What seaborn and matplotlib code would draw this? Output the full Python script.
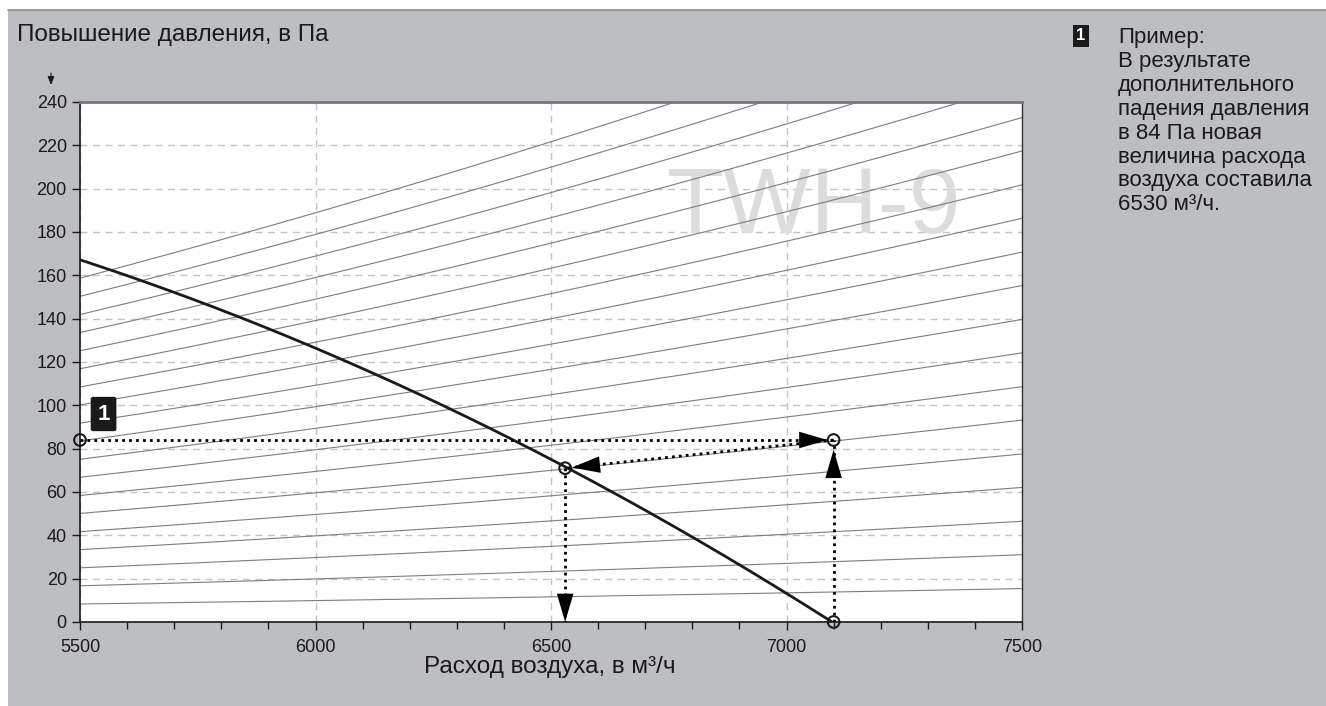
import numpy as np
import seaborn as sns
import matplotlib.pyplot as plt
from matplotlib.patches import Rectangle

# system curves: pressure at 5500 m3/h for each thin line (Pa)
system_start = [8.3, 16.7, 25.0, 33.4, 41.7, 50.1, 58.4, 66.8, 75.1, 83.5,
                91.8, 100.2, 108.5, 116.9, 125.2, 133.6, 141.9, 150.3, 158.7]
q_ref = 5500

# fan curve
fan_q = [5500, 5750, 6000, 6250, 6500, 6750, 7000, 7100]
fan_dp = [167, 148, 127, 102, 75, 45, 13, 0]

# example points
start_pt = (5500, 84)
old_pt = (7100, 84)
old_base = (7100, 0)
new_pt = (6530, 71)

x_ticks = [5500, 6000, 6500, 7000, 7500]
y_ticks = list(range(0, 241, 20))

note_lines = ['Пример:', 'В результате', 'дополнительного', 'падения давления',
              'в 84 Па новая', 'величина расхода', 'воздуха составила', '6530 м³/ч.']

sns.set_style('ticks')
plt.rcParams['font.family'] = ['Liberation Sans', 'DejaVu Sans']

fig = plt.figure(figsize=(13.26, 7.06), dpi=100, facecolor='white')
bg = '#bdbec2'
fig.patches.append(Rectangle((8 / 1326, 0), 1, (706 - 10) / 706, transform=fig.transFigure,
                             facecolor=bg, edgecolor='none', zorder=-10))
fig.lines.append(plt.Line2D([8 / 1326, 1], [(706 - 10) / 706] * 2, transform=fig.transFigure,
                            color='#8a8a8a', lw=1.2))

ax = fig.add_axes([80 / 1326, (706 - 622) / 706, 942 / 1326, 520 / 706])
ax.set_facecolor('white')

# watermark
ax.text(7058, 190.5, 'TWH-9', fontsize=67, color='#dcdcdc', ha='center', va='center', zorder=1)

qq = np.linspace(5500, 7500, 200)
for s in system_start:
    sns.lineplot(x=qq, y=s * (qq / q_ref) ** 2, color='#7d7d7d', lw=0.8, ax=ax, zorder=2)

coef = np.polyfit(fan_q, fan_dp, 2)
qf = np.linspace(fan_q[0], fan_q[-1], 200)
sns.lineplot(x=qf, y=np.polyval(coef, qf), color='#1a1a1a', lw=2, ax=ax, zorder=3)

dot = dict(color='black', lw=2, linestyle=(0, (1, 1.5)), zorder=4)
ax.plot([start_pt[0], old_pt[0]], [start_pt[1], old_pt[1]], **dot)
ax.plot([old_base[0], old_pt[0]], [old_base[1], old_pt[1]], **dot)
ax.plot([old_pt[0], new_pt[0]], [old_pt[1], new_pt[1]], **dot)
ax.plot([new_pt[0], new_pt[0]], [new_pt[1], 0], **dot)

head = dict(arrowstyle='-|>,head_length=1.2,head_width=0.35', color='black', lw=0,
            shrinkA=0, shrinkB=0, mutation_scale=17)
def arrowhead(tip, back):
    ax.annotate('', xy=tip, xytext=back, arrowprops=head, zorder=5)

arrowhead((7087, 84), (7000, 84))
arrowhead((7100, 79.5), (7100, 60))
arrowhead((6544, 71.3), (6620, 73))
arrowhead((6530, 0), (6530, 20))

pts_x = [start_pt[0], old_pt[0], old_base[0], new_pt[0]]
pts_y = [start_pt[1], old_pt[1], old_base[1], new_pt[1]]
ax.scatter(pts_x, pts_y, s=70, facecolors='none', edgecolors='#1a1a1a', lw=1.5, zorder=6, clip_on=False)

ax.text(5550, 96, '1', color='white', fontsize=16, fontweight='bold', ha='center', va='center',
        bbox=dict(boxstyle='round,pad=0.3,rounding_size=0.1', fc='#1a1a1a', ec='none'), zorder=7)

ax.set_xlim(5500, 7500)
ax.set_ylim(0, 240)
ax.set_xticks(x_ticks)
ax.set_xticks(np.arange(5500, 7501, 100), minor=True)
ax.set_yticks(y_ticks)
ax.tick_params(axis='both', labelsize=13, colors='#1a1a1a', length=6, width=1, direction='out')
ax.tick_params(axis='x', which='minor', length=5, width=1, color='#1a1a1a')
ax.tick_params(axis='x', pad=6)
ax.grid(True, which='major', color='#c4c4c4', linestyle=(0, (5, 4)), lw=1)
ax.set_axisbelow(True)
for side in ['left', 'bottom']:
    ax.spines[side].set_color('#1a1a1a')
    ax.spines[side].set_linewidth(1.2)
ax.spines['top'].set_color('#777777')
ax.spines['top'].set_linewidth(2)
ax.spines['right'].set_color('#333333')
ax.spines['right'].set_linewidth(1)
ax.set_xlabel('')
ax.set_ylabel('')

fig.text(17 / 1326, 1 - 35 / 706, 'Повышение давления, в Па', fontsize=17.5, color='#1a1a1a',
         ha='left', va='center')
fig.text(550 / 1326, 1 - 667 / 706, 'Расход воздуха, в м³/ч', fontsize=17.5, color='#1a1a1a',
         ha='center', va='center')
ax.annotate('', xy=(51 / 1326, 1 - 85 / 706), xytext=(51 / 1326, 1 - 73 / 706),
            xycoords='figure fraction', textcoords='figure fraction',
            arrowprops=dict(arrowstyle='-|>,head_length=0.5,head_width=0.2', color='#1a1a1a',
                            lw=0.8, shrinkA=0, shrinkB=0))

fig.text(1081 / 1326, 1 - 36 / 706, '1', color='white', fontsize=12, fontweight='bold',
         ha='center', va='center',
         bbox=dict(boxstyle='square,pad=0.2', fc='#1a1a1a', ec='none'))
for i, line in enumerate(note_lines):
    fig.text(1118 / 1326, 1 - (38 + i * 23.8) / 706, line, fontsize=16, color='#1a1a1a',
             ha='left', va='center')

fig.savefig('out.png', dpi=100, facecolor=fig.get_facecolor())
